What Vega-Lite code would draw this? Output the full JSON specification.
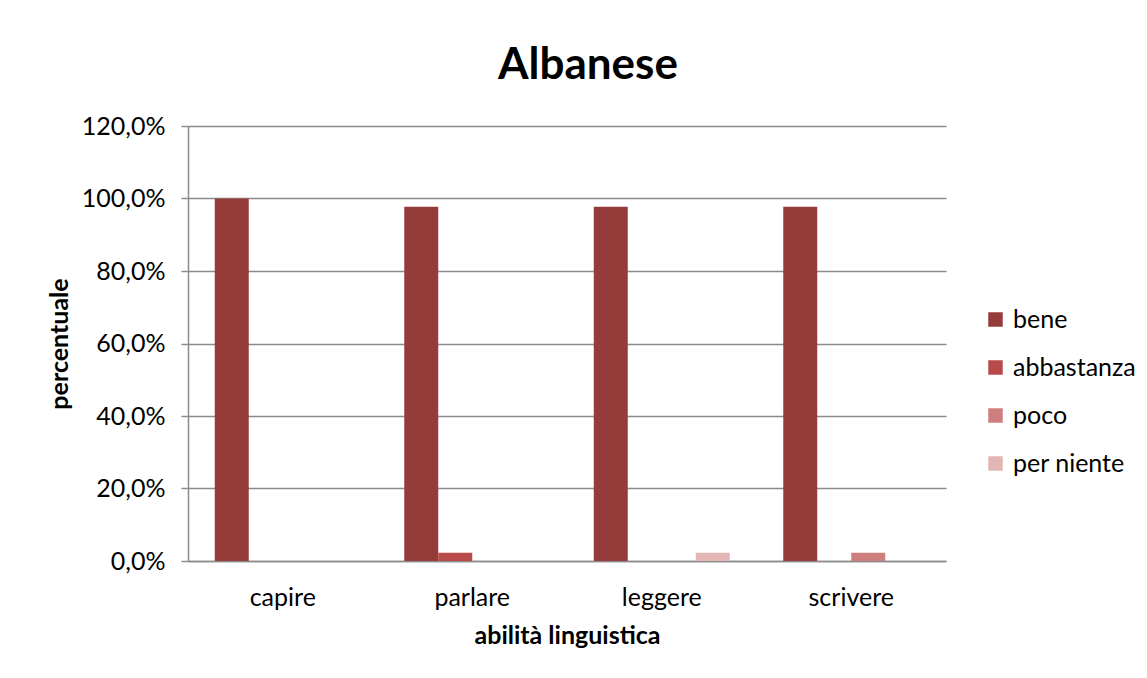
{
  "$schema": "https://vega.github.io/schema/vega-lite/v6.json",
  "width": 758,
  "height": 435,
  "autosize": {"type": "none"},
  "padding": {"left": 188, "top": 126, "right": 201, "bottom": 117},
  "background": "white",
  "title": {
    "text": "Albanese",
    "font": "Lato",
    "fontSize": 44,
    "fontWeight": "bold",
    "color": "#000000",
    "anchor": "middle",
    "dx": 21,
    "offset": 26
  },
  "data": {
    "values": [
      {"abilita": "capire", "livello": "bene", "valore": 1.0},
      {"abilita": "capire", "livello": "abbastanza", "valore": 0},
      {"abilita": "capire", "livello": "poco", "valore": 0},
      {"abilita": "capire", "livello": "per niente", "valore": 0},
      {"abilita": "parlare", "livello": "bene", "valore": 0.977},
      {"abilita": "parlare", "livello": "abbastanza", "valore": 0.023},
      {"abilita": "parlare", "livello": "poco", "valore": 0},
      {"abilita": "parlare", "livello": "per niente", "valore": 0},
      {"abilita": "leggere", "livello": "bene", "valore": 0.977},
      {"abilita": "leggere", "livello": "abbastanza", "valore": 0},
      {"abilita": "leggere", "livello": "poco", "valore": 0},
      {"abilita": "leggere", "livello": "per niente", "valore": 0.023},
      {"abilita": "scrivere", "livello": "bene", "valore": 0.977},
      {"abilita": "scrivere", "livello": "abbastanza", "valore": 0},
      {"abilita": "scrivere", "livello": "poco", "valore": 0.023},
      {"abilita": "scrivere", "livello": "per niente", "valore": 0}
    ]
  },
  "mark": {"type": "bar"},
  "encoding": {
    "x": {
      "field": "abilita",
      "type": "nominal",
      "sort": ["capire", "parlare", "leggere", "scrivere"],
      "scale": {"paddingInner": 0, "paddingOuter": 0},
      "axis": {
        "title": "abilità linguistica",
        "labelAngle": 0,
        "labelFont": "Lato",
        "labelFontSize": 25,
        "labelColor": "#000000",
        "labelPadding": 24,
        "ticks": false,
        "domainColor": "#8c8c8c",
        "domainWidth": 1.5,
        "titleFont": "Lato",
        "titleFontSize": 25,
        "titleFontWeight": "bold",
        "titleColor": "#000000",
        "titlePadding": 13
      }
    },
    "xOffset": {
      "field": "livello",
      "type": "nominal",
      "sort": ["bene", "abbastanza", "poco", "per niente"],
      "scale": {"paddingInner": 0, "paddingOuter": 0.787}
    },
    "y": {
      "field": "valore",
      "type": "quantitative",
      "scale": {"domain": [0, 1.2], "nice": false},
      "axis": {
        "title": "percentuale",
        "values": [0, 0.2, 0.4, 0.6, 0.8, 1.0, 1.2],
        "labelExpr": "replace(format(datum.value, '.1%'), '.', ',')",
        "labelFont": "Lato",
        "labelFontSize": 25,
        "labelColor": "#000000",
        "labelPadding": 16,
        "tickSize": 7,
        "tickColor": "#8c8c8c",
        "tickWidth": 1.5,
        "domainColor": "#8c8c8c",
        "domainWidth": 1.5,
        "grid": true,
        "gridColor": "#8c8c8c",
        "gridWidth": 1.5,
        "titleFont": "Lato",
        "titleFontSize": 25,
        "titleFontWeight": "bold",
        "titleColor": "#000000",
        "titlePadding": 9
      }
    },
    "color": {
      "field": "livello",
      "type": "nominal",
      "sort": ["bene", "abbastanza", "poco", "per niente"],
      "scale": {
        "domain": ["bene", "abbastanza", "poco", "per niente"],
        "range": ["#953B3A", "#B84B4A", "#CF7E7E", "#E3B6B6"]
      },
      "legend": {
        "title": null,
        "orient": "none",
        "legendX": 795,
        "legendY": 181,
        "symbolType": "square",
        "symbolSize": 210,
        "symbolStrokeWidth": 0,
        "symbolOpacity": 1,
        "labelFont": "Lato",
        "labelFontSize": 25,
        "labelColor": "#000000",
        "labelOffset": 5,
        "rowPadding": 22
      }
    }
  },
  "config": {
    "view": {"stroke": null}
  }
}
